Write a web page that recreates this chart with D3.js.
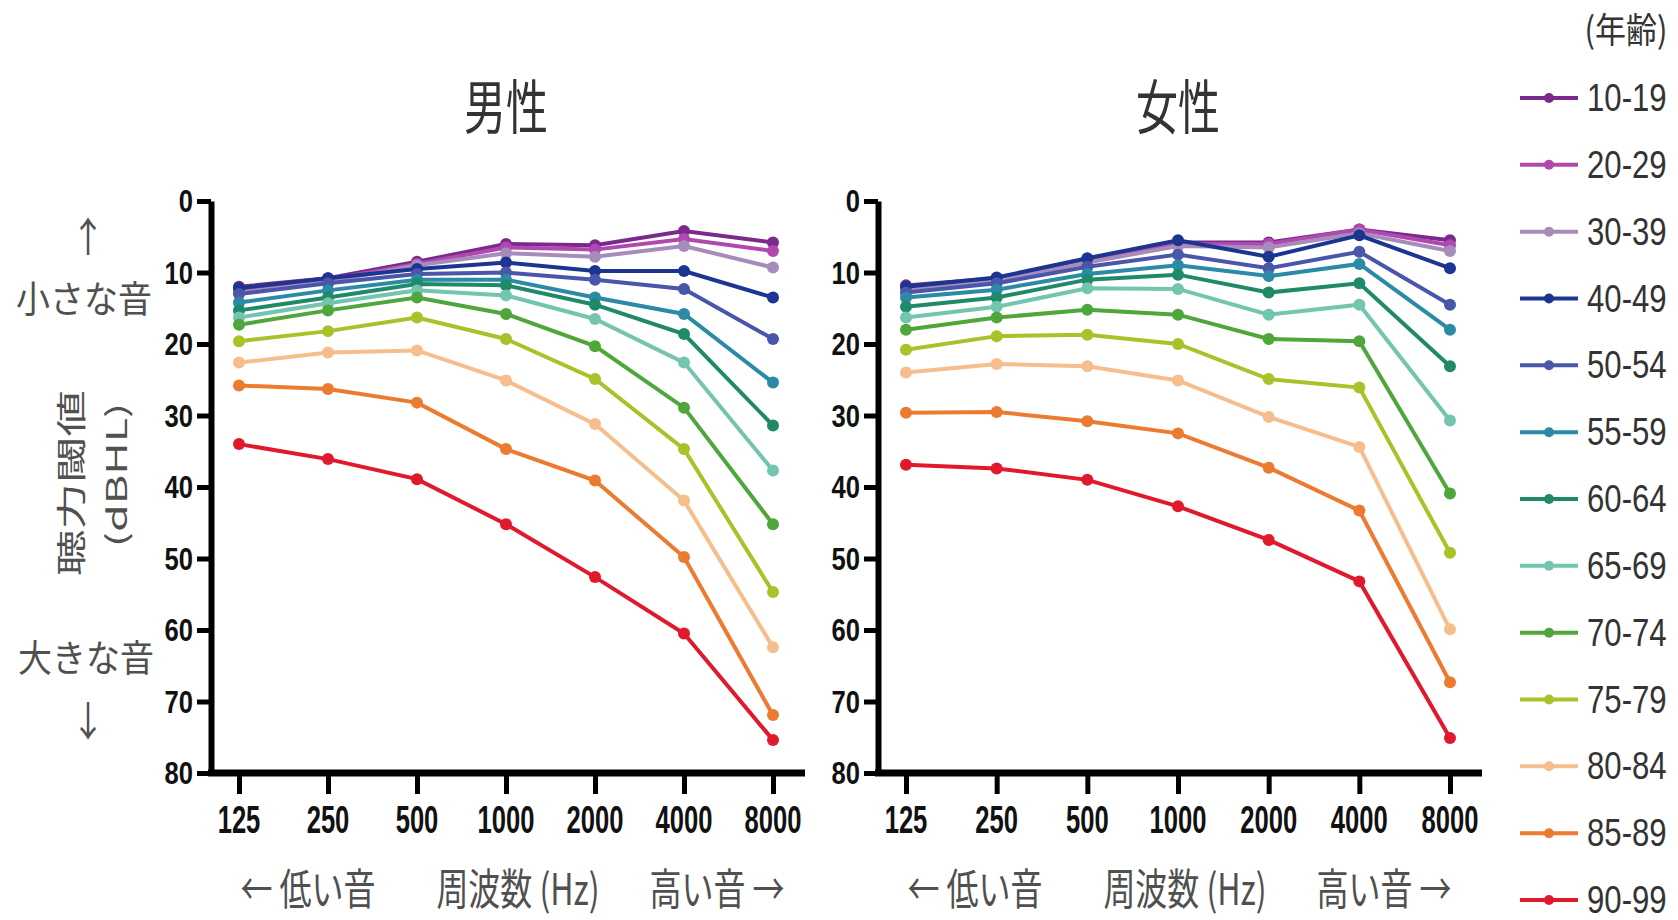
<!DOCTYPE html>
<html>
<head>
<meta charset="utf-8">
<script src="https://cdn.jsdelivr.net/npm/d3@7"></script>
<style>
  body { margin: 0; background: #fff; }
  .num { font-family: "Liberation Sans", Arial, sans-serif; fill: #111; }
  .jp { font-family: "Noto Sans CJK JP", sans-serif; fill: #505050; }
</style>
</head>
<body>
<svg width="1678" height="920"></svg>
<script>
// frequencies (Hz) and hearing threshold ticks (dBHL)
var freqs = ["125", "250", "500", "1000", "2000", "4000", "8000"];
var yTicks = [0, 10, 20, 30, 40, 50, 60, 70, 80];

var ageGroups = ["10-19", "20-29", "30-39", "40-49", "50-54", "55-59", "60-64",
                 "65-69", "70-74", "75-79", "80-84", "85-89", "90-99"];
var ageColors = ["#7a2a8c", "#b048b0", "#a78bbb", "#1b3590", "#4a56aa", "#2b8aa6", "#1f8a6a",
                 "#74c5af", "#4fa63b", "#a9c22a", "#f5be8c", "#ec7a30", "#e01a2c"];

// male thresholds, one row per age group, columns follow freqs
var maleValues = [
  [12.0, 10.8, 8.5, 6.0, 6.2, 4.2, 5.8],
  [12.3, 11.0, 8.8, 6.5, 6.8, 5.3, 7.0],
  [12.8, 11.3, 9.0, 7.3, 7.8, 6.3, 9.3],
  [12.2, 10.8, 9.5, 8.6, 9.8, 9.8, 13.5],
  [13.0, 11.5, 10.2, 10.0, 11.0, 12.3, 19.3],
  [14.2, 12.5, 11.0, 11.0, 13.5, 15.8, 25.4],
  [15.3, 13.5, 11.6, 11.8, 14.5, 18.6, 31.4],
  [16.3, 14.3, 12.5, 13.2, 16.5, 22.6, 37.7],
  [17.3, 15.3, 13.5, 15.8, 20.3, 28.9, 45.2],
  [19.6, 18.2, 16.3, 19.3, 24.9, 34.7, 54.7],
  [22.6, 21.2, 20.9, 25.1, 31.2, 41.9, 62.4],
  [25.8, 26.3, 28.2, 34.7, 39.1, 49.8, 71.9],
  [34.0, 36.1, 38.9, 45.2, 52.6, 60.5, 75.4]
];

// female thresholds
var femaleValues = [
  [11.8, 10.8, 8.2, 5.8, 5.8, 4.0, 5.5],
  [12.0, 11.0, 8.3, 6.0, 6.0, 4.0, 6.2],
  [12.3, 11.2, 8.6, 6.3, 6.5, 4.5, 7.0],
  [12.0, 10.7, 8.0, 5.5, 7.8, 4.8, 9.4],
  [12.8, 11.5, 9.2, 7.5, 9.4, 7.1, 14.5],
  [13.5, 12.4, 10.2, 9.0, 10.5, 8.8, 18.0],
  [14.8, 13.5, 11.0, 10.3, 12.8, 11.5, 23.1],
  [16.3, 14.8, 12.2, 12.3, 15.9, 14.5, 30.7],
  [18.0, 16.3, 15.2, 15.9, 19.3, 19.6, 40.9],
  [20.8, 18.9, 18.7, 20.0, 24.9, 26.1, 49.2],
  [24.0, 22.8, 23.1, 25.1, 30.2, 34.4, 59.9],
  [29.6, 29.5, 30.8, 32.5, 37.3, 43.3, 67.3],
  [36.9, 37.4, 39.0, 42.7, 47.4, 53.2, 75.1]
];

var svg = d3.select("svg");

// text helper: the original image is stretched vertically, so text gets a scale too
function label(g, s, x, y, cls, size, sx, sy, anchor) {
  return g.append("text")
    .attr("class", cls)
    .attr("transform", "translate(" + x + "," + y + ") scale(" + sx + "," + sy + ")")
    .attr("text-anchor", anchor || "middle")
    .style("font-size", size + "px")
    .text(s);
}

function drawPanel(values, x0, w, title) {
  var top = 201, bottom = 773;
  var g = svg.append("g");

  var x = d3.scalePoint().domain(freqs).range([x0 + 28, x0 + w - 32]);
  var y = d3.scaleLinear().domain([0, 80]).range([top, bottom]);

  // axes
  var yAxis = g.append("g").attr("transform", "translate(" + x0 + ",0)")
    .call(d3.axisLeft(y).tickValues(yTicks).tickSize(14).tickSizeOuter(0).tickFormat(""));
  yAxis.select(".domain").attr("stroke-width", 6);
  yAxis.selectAll(".tick line").attr("stroke-width", 5);

  var xAxis = g.append("g").attr("transform", "translate(0," + bottom + ")")
    .call(d3.axisBottom(x).tickSize(21).tickSizeOuter(0).tickFormat(""));
  xAxis.select(".domain").remove();
  xAxis.selectAll(".tick line").attr("stroke-width", 5);
  g.append("line")
    .attr("x1", x0 - 3).attr("x2", x0 + w)
    .attr("y1", bottom).attr("y2", bottom)
    .attr("stroke", "#000").attr("stroke-width", 7);

  // tick labels
  yTicks.forEach(function(t) {
    label(g, t, x0 - 18, y(t) + 11, "num", 32, 0.8, 1.0, "end").style("font-weight", "bold");
  });
  freqs.forEach(function(f) {
    label(g, f, x(f), bottom + 60, "num", 32, 0.8, 1.22, "middle").style("font-weight", "bold");
  });

  // series
  var line = d3.line()
    .x(function(d, i) { return x(freqs[i]); })
    .y(function(d) { return y(d); });

  values.forEach(function(row, k) {
    g.append("path")
      .datum(row)
      .attr("fill", "none")
      .attr("stroke", ageColors[k])
      .attr("stroke-width", 4)
      .attr("d", line);
    g.selectAll(null)
      .data(row)
      .enter()
      .append("circle")
      .attr("cx", function(d, i) { return x(freqs[i]); })
      .attr("cy", function(d) { return y(d); })
      .attr("r", 6)
      .attr("fill", ageColors[k]);
  });

  // titles
  label(g, title, x0 + w / 2 - 2, 129, "jp", 42, 1, 1.4, "middle").style("fill", "#333");
  label(g, "← 低い音", x0 + 97, 905, "jp", 32, 1, 1.35, "middle");
  label(g, "周波数 (Hz)", x0 + 307, 905, "jp", 32, 1, 1.35, "middle");
  label(g, "高い音 →", x0 + 506, 905, "jp", 32, 1, 1.35, "middle");
}

drawPanel(maleValues, 211, 594, "男性");
drawPanel(femaleValues, 878, 604, "女性");

// left side labels
var side = svg.append("g");
label(side, "↑", 88, 252, "jp", 34, 1, 1.2, "middle");
label(side, "小さな音", 84, 313, "jp", 34, 1, 1.1, "middle");
label(side, "大きな音", 86, 672, "jp", 34, 1, 1.1, "middle");
label(side, "↓", 88, 736, "jp", 34, 1, 1.2, "middle");
side.append("text").attr("class", "jp")
  .attr("transform", "translate(69,483) rotate(-90) scale(1.55,1)")
  .attr("text-anchor", "middle").attr("dominant-baseline", "central")
  .style("font-size", "30px").text("聴力閾値");
side.append("text").attr("class", "jp")
  .attr("transform", "translate(115,475) rotate(-90) scale(1.6,1)")
  .attr("text-anchor", "middle").attr("dominant-baseline", "central")
  .style("font-size", "28px").text("(dBHL)");

// legend
var legend = svg.append("g");
label(legend, "(年齢)", 1626, 43, "jp", 31, 1, 1.15, "middle").style("fill", "#333");
var ly = d3.scalePoint().domain(ageGroups).range([98, 900]);
ageGroups.forEach(function(a, k) {
  var yy = ly(a);
  legend.append("line")
    .attr("x1", 1520).attr("x2", 1578).attr("y1", yy).attr("y2", yy)
    .attr("stroke", ageColors[k]).attr("stroke-width", 4);
  legend.append("circle").attr("cx", 1549).attr("cy", yy).attr("r", 5).attr("fill", ageColors[k]);
  label(legend, a, 1587, yy + 13, "num", 38, 0.82, 1, "start").style("fill", "#333");
});
</script>
</body>
</html>
